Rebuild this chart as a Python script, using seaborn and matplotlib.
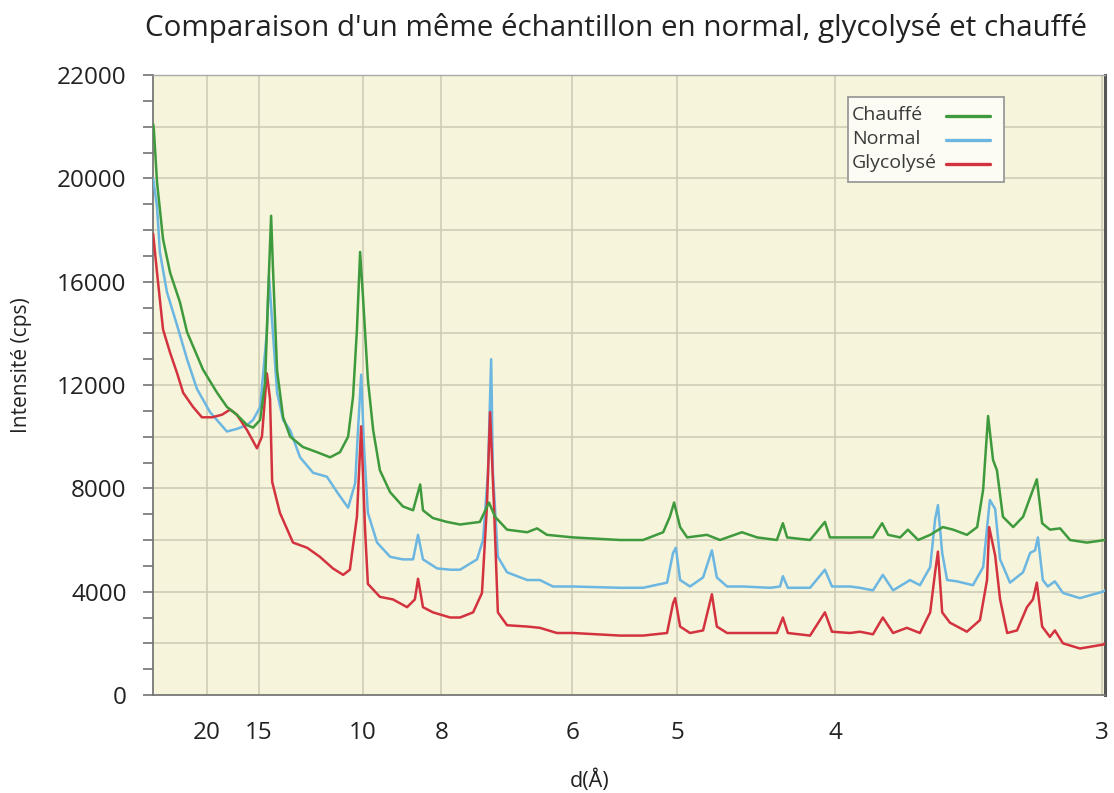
import numpy as np
import pandas as pd
import matplotlib
matplotlib.use("Agg")
import matplotlib.pyplot as plt
from matplotlib.lines import Line2D
from matplotlib.patches import Rectangle
from matplotlib.ticker import FixedLocator, MultipleLocator
import seaborn as sns

# X-ray diffraction patterns, Cu K-alpha, recorded against 2-theta (degrees)
chauffe_2theta = [2.89, 2.91, 3.00, 3.17, 3.37, 3.65, 3.85, 4.30, 4.70, 4.98,
                  5.26, 5.55, 5.72, 5.92, 6.06, 6.14, 6.23, 6.28, 6.40, 6.57,
                  6.77, 7.13, 7.53, 7.90, 8.18, 8.41, 8.55, 8.66, 8.75, 8.83,
                  8.97, 9.12, 9.31, 9.60, 9.96, 10.25, 10.45, 10.53, 10.81, 11.21,
                  11.58, 12.14, 12.40, 12.57, 12.91, 13.48, 13.76, 14.04, 14.78, 16.11,
                  16.76, 17.33, 17.52, 17.64, 17.81, 18.01, 18.57, 18.94, 19.56, 19.99,
                  20.55, 20.72, 20.84, 21.49, 21.91, 22.05, 22.62, 22.90, 23.27, 23.53,
                  23.70, 24.04, 24.26, 24.55, 24.89, 25.25, 25.54, 25.93, 26.22, 26.39,
                  26.53, 26.67, 26.78, 26.95, 27.24, 27.52, 27.72, 27.91, 28.06, 28.28,
                  28.57, 28.85, 29.33, 29.84]
chauffe_cps = [22100, 21900, 19850, 17650, 16350, 15200, 14050, 12600, 11700, 11150,
               10850, 10450, 10350, 10650, 12100, 15300, 18550, 16600, 12550, 10750,
               10000, 9600, 9400, 9200, 9400, 10000, 11550, 14150, 17150, 15450,
               12200, 10250, 8700, 7850, 7300, 7150, 8150, 7150, 6850, 6700,
               6600, 6700, 7450, 6900, 6400, 6300, 6450, 6200, 6100, 6000,
               6000, 6300, 6900, 7450, 6500, 6100, 6200, 6000, 6300, 6100,
               6000, 6650, 6100, 6000, 6700, 6100, 6100, 6100, 6100, 6650,
               6200, 6100, 6400, 6000, 6200, 6500, 6400, 6200, 6500, 7950,
               10800, 9100, 8700, 6900, 6500, 6900, 7650, 8350, 6650, 6400,
               6450, 6000, 5900, 6000]

normal_2theta = [2.89, 3.00, 3.08, 3.28, 3.57, 3.85, 4.13, 4.50, 4.98, 5.26,
                 5.55, 5.72, 5.92, 6.11, 6.17, 6.28, 6.40, 6.57, 6.77, 7.05,
                 7.42, 7.81, 8.10, 8.41, 8.61, 8.69, 8.78, 8.86, 8.97, 9.23,
                 9.60, 9.96, 10.25, 10.39, 10.53, 10.93, 11.30, 11.58, 12.06, 12.23,
                 12.37, 12.46, 12.51, 12.65, 12.91, 13.48, 13.84, 14.21, 14.78, 16.11,
                 16.76, 17.44, 17.61, 17.69, 17.81, 18.09, 18.46, 18.71, 18.85, 19.14,
                 19.59, 20.36, 20.64, 20.72, 20.86, 21.49, 21.91, 22.11, 22.62, 22.90,
                 23.27, 23.55, 23.84, 24.32, 24.60, 24.89, 25.03, 25.11, 25.23, 25.37,
                 25.65, 26.10, 26.39, 26.58, 26.73, 26.87, 27.15, 27.52, 27.72, 27.86,
                 27.94, 28.08, 28.22, 28.42, 28.65, 29.13, 29.78, 29.84]
normal_cps = [20000, 18900, 17150, 15600, 14300, 13000, 11850, 10950, 10200, 10300,
              10450, 10650, 11150, 14050, 16200, 14050, 11700, 10650, 10250, 9200,
              8600, 8450, 7850, 7250, 8200, 10250, 12400, 9600, 7050, 5900,
              5350, 5250, 5250, 6200, 5250, 4900, 4850, 4850, 5250, 6000,
              8600, 13000, 8600, 5350, 4750, 4450, 4450, 4200, 4200, 4150,
              4150, 4350, 5500, 5700, 4450, 4200, 4550, 5600, 4550, 4200,
              4200, 4150, 4200, 4600, 4150, 4150, 4850, 4200, 4200, 4150,
              4050, 4650, 4050, 4450, 4250, 4950, 6800, 7350, 5500, 4450,
              4400, 4250, 4950, 7550, 7200, 5250, 4350, 4750, 5500, 5600,
              6100, 4450, 4200, 4400, 3950, 3750, 4000, 4050]

glycolyse_2theta = [2.89, 3.00, 3.17, 3.37, 3.57, 3.74, 4.02, 4.27, 4.56, 4.84,
                    5.07, 5.26, 5.55, 5.83, 5.97, 6.11, 6.20, 6.26, 6.48, 6.85,
                    7.25, 7.61, 7.98, 8.27, 8.46, 8.66, 8.78, 8.89, 8.97, 9.31,
                    9.68, 10.08, 10.30, 10.39, 10.53, 10.81, 11.30, 11.58, 11.95, 12.20,
                    12.34, 12.43, 12.54, 12.65, 12.91, 13.48, 13.84, 14.32, 14.78, 16.11,
                    16.76, 17.44, 17.61, 17.67, 17.81, 18.09, 18.46, 18.71, 18.85, 19.14,
                    19.79, 20.55, 20.72, 20.86, 21.49, 21.91, 22.11, 22.62, 22.90, 23.27,
                    23.55, 23.84, 24.23, 24.60, 24.89, 25.03, 25.11, 25.23, 25.45, 25.93,
                    26.30, 26.50, 26.56, 26.73, 26.87, 27.07, 27.35, 27.63, 27.80, 27.91,
                    28.06, 28.28, 28.42, 28.65, 29.13, 29.78, 29.84]
glycolyse_cps = [17850, 16350, 14150, 13250, 12450, 11700, 11150, 10750, 10750, 10850,
                 11050, 10850, 10250, 9550, 10000, 12450, 11450, 8250, 7050, 5900,
                 5700, 5350, 4900, 4650, 4850, 6900, 10400, 6400, 4300, 3800,
                 3700, 3400, 3700, 4500, 3400, 3200, 3000, 3000, 3200, 3950,
                 7300, 10950, 7300, 3200, 2700, 2650, 2600, 2400, 2400, 2300,
                 2300, 2400, 3550, 3750, 2650, 2400, 2500, 3900, 2650, 2400,
                 2400, 2400, 3000, 2400, 2300, 3200, 2450, 2400, 2450, 2350,
                 3000, 2400, 2600, 2400, 3200, 4750, 5550, 3200, 2800, 2450,
                 2900, 4450, 6500, 5400, 3700, 2400, 2500, 3400, 3700, 4350,
                 2650, 2250, 2500, 2000, 1800, 1950, 2000]

samples = ["Chauffé", "Normal", "Glycolysé"]
colors = {"Chauffé": "#3e9a3c", "Normal": "#6cb6e2", "Glycolysé": "#d3333f"}

# d-spacing ticks (Å) and intensity tick labels
d_ticks = [20, 15, 10, 8, 6, 5, 4, 3]
d_labels = ["20", "15", "10", "8", "6", "5", "4", "3"]
y_ticks = [0, 4000, 8000, 12000, 16000, 20000, 24000]
y_labels = ["0", "4000", "8000", "12000", "16000", "20000", "22000"]

WAVELENGTH = 1.5406  # Cu K-alpha, Å


def d_to_2theta(d):
    return np.degrees(2 * np.arcsin(WAVELENGTH / (2 * np.asarray(d, dtype=float))))


assert len(chauffe_2theta) == len(chauffe_cps)
assert len(normal_2theta) == len(normal_cps)
assert len(glycolyse_2theta) == len(glycolyse_cps)

df = pd.concat([
    pd.DataFrame({"two_theta": chauffe_2theta, "cps": chauffe_cps, "sample": "Chauffé"}),
    pd.DataFrame({"two_theta": normal_2theta, "cps": normal_cps, "sample": "Normal"}),
    pd.DataFrame({"two_theta": glycolyse_2theta, "cps": glycolyse_cps, "sample": "Glycolysé"}),
], ignore_index=True)

sns.set_theme(style="white")
plt.rcParams["font.family"] = ["Open Sans", "DejaVu Sans"]

W, H = 1114, 793
fig = plt.figure(figsize=(W / 100, H / 100), dpi=100)
AX_L, AX_R, AX_T, AX_B = 153, 1105, 75, 695
ax = fig.add_axes([AX_L / W, 1 - AX_B / H, (AX_R - AX_L) / W, (AX_B - AX_T) / H])
ax.set_facecolor("#f6f4da")

sns.lineplot(data=df, x="two_theta", y="cps", hue="sample",
             hue_order=["Normal", "Glycolysé", "Chauffé"], palette=colors,
             estimator=None, sort=False, linewidth=1.8, legend=False, ax=ax, zorder=3)

x_lo, x_hi = 2.886, 29.84
ax.set_xlim(x_lo, x_hi)
ax.set_ylim(0, 24000)

# x axis: 2-theta positions labelled with d-spacing
ax.set_xticks(d_to_2theta(d_ticks))
ax.set_xticklabels(d_labels)
ax.tick_params(axis="x", direction="out", length=12, width=1.4, color="#333333",
               pad=7, labelsize=17.5, labelcolor="#222222")
ax.grid(axis="x", color="#cbcab2", linewidth=1.1, zorder=0)

# y axis: labelled ticks every 4000, small ticks every 1000, grid every 2000
ax.yaxis.set_major_locator(FixedLocator(y_ticks))
ax.set_yticklabels(y_labels)
ax.yaxis.set_minor_locator(MultipleLocator(1000))
ax.tick_params(axis="y", which="both", direction="out", length=7, width=1.1,
               color="#666666", pad=12, labelsize=17.5, labelcolor="#222222")
ax.tick_params(axis="y", which="both", left=True)
ax.hlines(np.arange(2000, 24000, 2000), x_lo, x_hi, color="#cbcab2",
          linewidth=1.1, zorder=0.5)

for side, col, lw in [("left", "#777777", 1.3), ("bottom", "#777777", 1.3),
                      ("top", "#aaaaaa", 1.0), ("right", "#555555", 2.2)]:
    ax.spines[side].set_visible(True)
    ax.spines[side].set_color(col)
    ax.spines[side].set_linewidth(lw)

ax.set_xlabel("")
ax.set_ylabel("")

fig.text(616 / W, 1 - 28 / H,
         "Comparaison d'un même échantillon en normal, glycolysé et chauffé",
         ha="center", va="center", fontsize=21.3, color="#222222")
fig.text(22 / W, 1 - 365 / H, "Intensité (cps)", rotation=90,
         ha="center", va="center", fontsize=15, color="#222222")
fig.text(590 / W, 1 - 781 / H, "d(Å)", ha="center", va="center",
         fontsize=15.5, color="#222222")


# legend: labels left-aligned, line samples in a right-hand column
def to_axes(px, py):
    return (px - AX_L) / (AX_R - AX_L), (AX_B - py) / (AX_B - AX_T)


bx0, by0 = to_axes(848, 182)
bx1, by1 = to_axes(1004, 97)
ax.add_patch(Rectangle((bx0, by0), bx1 - bx0, by1 - by0, transform=ax.transAxes,
                       facecolor="#fcfcf4", edgecolor="#9a9a9a", linewidth=1.3,
                       zorder=5))
for label, row_y in zip(samples, [115, 139, 163]):
    tx, ty = to_axes(852, row_y)
    ax.text(tx, ty, label, transform=ax.transAxes, ha="left", va="center",
            fontsize=14, color="#3a3a3a", zorder=6)
    lx0, ly = to_axes(946, row_y + 1)
    lx1, _ = to_axes(990, row_y + 1)
    ax.add_line(Line2D([lx0, lx1], [ly, ly], transform=ax.transAxes,
                       color=colors[label], linewidth=2.4, zorder=6))

fig.savefig("out.png", dpi=100)
